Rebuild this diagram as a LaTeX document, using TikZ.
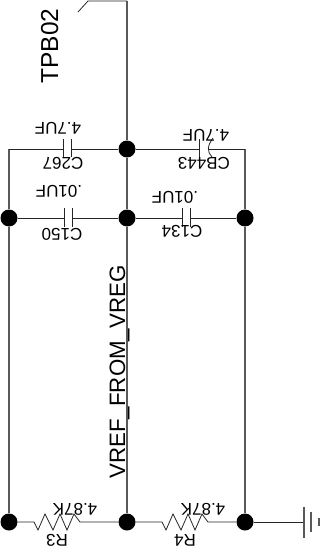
\documentclass[tikz,border=0pt]{standalone}
\usepackage{fontspec}
\setmainfont{Liberation Sans}
\usetikzlibrary{positioning}

\tikzset{
  junction/.style={circle, fill=black, inner sep=0pt, minimum size=17pt},
  wirev/.style={line width=1.1pt, draw=black!65},
  wireh/.style={line width=0.8pt, draw=black!85},
  partval/.style={rotate=180, inner sep=0pt, font=\fontsize{17}{17}\selectfont},
  netname/.style={rotate=90, anchor=base, inner sep=0pt, font=\fontsize{24.5}{24.5}\selectfont}
}

\begin{document}
\begin{tikzpicture}[x=1pt, y=-1pt]
    \useasboundingbox (0,0) rectangle (326,559);

    % junctions
    \node [junction] (jtop) at (127,149) {};
    \node [junction] (jml) at (9,218) {};
    \node [junction] (jmc) at (127,218) {};
    \node [junction] (jmr) at (245,218) {};
    \node [junction] (jbl) at (9,522) {};
    \node [junction] (jbc) at (127,522) {};
    \node [junction] (jbr) at (245,522) {};

    % corners and free ends
    \coordinate (ctl) at (9,149);
    \coordinate (ctr) at (245,149);
    \coordinate (pintop) at (127,1);
    \coordinate (pinbend) at (88,1);
    \coordinate (pinend) at (78,12);

    % vertical wires
    \draw [wirev] (pintop) -- (jtop) -- (jmc) -- (jbc);
    \draw [wirev] (ctl) -- (jml) -- (jbl);
    \draw [wirev] (ctr) -- (jmr) -- (jbr);

    % test point lead
    \draw [wireh] (pintop) -- (pinbend) -- (pinend);

    % C267
    \coordinate (c267a) at (63,149);
    \coordinate (c267b) at (71,149);
    \draw [wireh] (ctl) -- (c267a);
    \draw [wireh] (c267b) -- (jtop);
    \draw [wireh] (63,139) -- (63,157);
    \draw [wireh] (71,139) -- (71,157);
    \node [partval] (v267) at (58,128) {4.7UF};
    \node [partval] (n267) at (63,163) {C267};

    % CB443
    \coordinate (cb443a) at (199,149);
    \coordinate (cb443b) at (209,149);
    \draw [wireh] (jtop) -- (cb443a);
    \draw [wireh] (cb443b) -- (ctr);
    \draw [wireh] (199,139) -- (199,157);
    \draw [wireh] (213,138) .. controls (207,146) and (207,152) .. (212,157);
    \node [partval] (v443) at (206,135) {4.7UF};
    \node [partval] (n443) at (204,163) {CB443};

    % C150
    \coordinate (c150a) at (64,218);
    \coordinate (c150b) at (72,218);
    \draw [wireh] (jml) -- (c150a);
    \draw [wireh] (c150b) -- (jmc);
    \draw [wireh] (64,208) -- (64,227);
    \draw [wireh] (72,208) -- (72,227);
    \node [partval] (v150) at (59,191) {.01UF};
    \node [partval] (n150) at (62,234) {C150};

    % C134
    \coordinate (c134a) at (182,218);
    \coordinate (c134b) at (190,218);
    \draw [wireh] (jmc) -- (c134a);
    \draw [wireh] (c134b) -- (jmr);
    \draw [wireh] (182,208) -- (182,227);
    \draw [wireh] (190,208) -- (190,227);
    \node [partval] (v134) at (175,197) {.01UF};
    \node [partval] (n134) at (182,231) {C134};

    % R3
    \coordinate (r3a) at (34,522);
    \coordinate (r3b) at (82,522);
    \draw [wireh] (jbl) -- (r3a)
      -- ++(4,8) -- ++(7,-16) -- ++(8,16) -- ++(7,-16) -- ++(7,16) -- ++(7,-16) -- ++(6,8)
      -- (r3b) -- (jbc);
    \node [partval] (v3) at (75,509) {4.87K};
    \node [partval] (n3) at (57,540) {R3};

    % R4
    \coordinate (r4a) at (162,522);
    \coordinate (r4b) at (210,522);
    \draw [wireh] (jbc) -- (r4a)
      -- ++(4,8) -- ++(7,-16) -- ++(8,16) -- ++(7,-16) -- ++(7,16) -- ++(7,-16) -- ++(6,8)
      -- (r4b) -- (jbr);
    \node [partval] (v4) at (203,509) {4.87K};
    \node [partval] (n4) at (185,540) {R4};

    % ground
    \coordinate (gnd) at (304,522);
    \draw [wireh] (jbr) -- (gnd);
    \draw [wirev] (304,507) -- (304,538);
    \draw [wirev] (311,512) -- (311,532);
    \draw [wirev] (319,518) -- (319,526);

    % net names
    \node [netname] (tpb) at (58,46) {TPB02};
    \node [netname, font=\fontsize{22.3}{22.3}\selectfont] (vref) at (125,372) {VREF\_FROM\_VREG};
\end{tikzpicture}
\end{document}
